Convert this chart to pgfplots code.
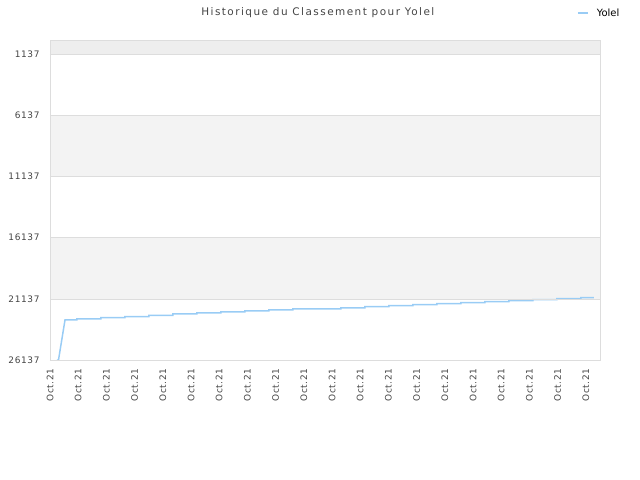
\documentclass[border=0pt]{standalone}
\usepackage{pgfplots}
\pgfplotsset{compat=1.18}
\usepackage{fontspec}
\setmainfont{DejaVu Sans}
\newfontfamily\tickfont[LetterSpace=7]{DejaVu Sans}
\newfontfamily\titlefont[LetterSpace=14]{DejaVu Sans}
\definecolor{linec}{HTML}{99CCF5}
\definecolor{gridc}{HTML}{DDDDDD}
\definecolor{bandc}{HTML}{F3F3F3}
\definecolor{topc}{HTML}{EEEEEE}
\definecolor{textc}{HTML}{444444}

\begin{document}
\begin{tikzpicture}
\useasboundingbox (-50bp,-120bp) rectangle (590bp,360bp);
\begin{axis}[
    axis on top,
    at={(0bp,0bp)}, anchor=south west,
    scale only axis, width=550bp, height=320bp,
    xmin=50, xmax=600, ymin=0, ymax=26137,
    y dir=reverse,
    scaled y ticks=false,
    axis line style={draw=gridc},
    major tick length=0pt,
    xtick={50,78.2,106.4,134.6,162.8,191,219.2,247.4,275.6,303.8,332,360.2,388.4,416.6,444.8,473,501.2,529.4,557.6,585.8},
    xticklabels={Oct.21,Oct.21,Oct.21,Oct.21,Oct.21,Oct.21,Oct.21,Oct.21,Oct.21,Oct.21,Oct.21,Oct.21,Oct.21,Oct.21,Oct.21,Oct.21,Oct.21,Oct.21,Oct.21,Oct.21},
    x tick label style={rotate=90, anchor=east, font=\tickfont\fontsize{9}{10}\selectfont, text=textc},
    xticklabel shift=5bp,
    ytick={1137,6137,11137,16137,21137,26137},
    yticklabels={1137,6137,11137,16137,21137,26137},
    y tick label style={font=\tickfont\fontsize{9}{10}\selectfont, text=textc},
    yticklabel shift=7bp,
    ymajorgrids, grid style={draw=gridc},
    every axis title shift=0pt,
    title={Historique du Classement pour Yolel},
    title style={at={(axis description cs:0.487,1.086)}, anchor=center, font=\titlefont\fontsize{10.5}{12}\selectfont, text=textc},
    legend style={at={(axis description cs:0.958,1.084)}, anchor=west, draw=none, fill=none, font=\fontsize{10}{11}\selectfont, text=black, inner sep=0pt},
    legend image code/.code={\draw[linec, line width=1.5bp] (0bp,0bp) -- (10bp,0bp); \path[draw=none, fill=none] (17bp,0bp) circle (0pt);},
]
\fill[topc] (axis cs:50,0) rectangle (axis cs:600,1137);
\fill[bandc] (axis cs:50,6137) rectangle (axis cs:600,11137);
\fill[bandc] (axis cs:50,16137) rectangle (axis cs:600,21137);
\addplot[linec, line width=1.5bp, line join=miter] coordinates {
(57,26137)(58.5,26137)(65,22869)
(77,22869)(77,22787)(101,22787)(101,22681)(125,22681)(125,22600)
(149,22600)(149,22485)(173,22485)(173,22379)(197,22379)(197,22297)
(221,22297)(221,22215)(245,22215)(245,22134)(269,22134)(269,22052)
(293,22052)(293,21970)(341,21970)(341,21889)(365,21889)(365,21782)
(389,21782)(389,21700)(413,21700)(413,21619)(437,21619)(437,21537)
(461,21537)(461,21455)(485,21455)(485,21374)(509,21374)(509,21292)
(533,21292)(533,21210)(557,21210)(557,21129)(581,21129)(581,21047)
(594,21047)
};
\addlegendentry{Yolel}
\end{axis}
\end{tikzpicture}
\end{document}
